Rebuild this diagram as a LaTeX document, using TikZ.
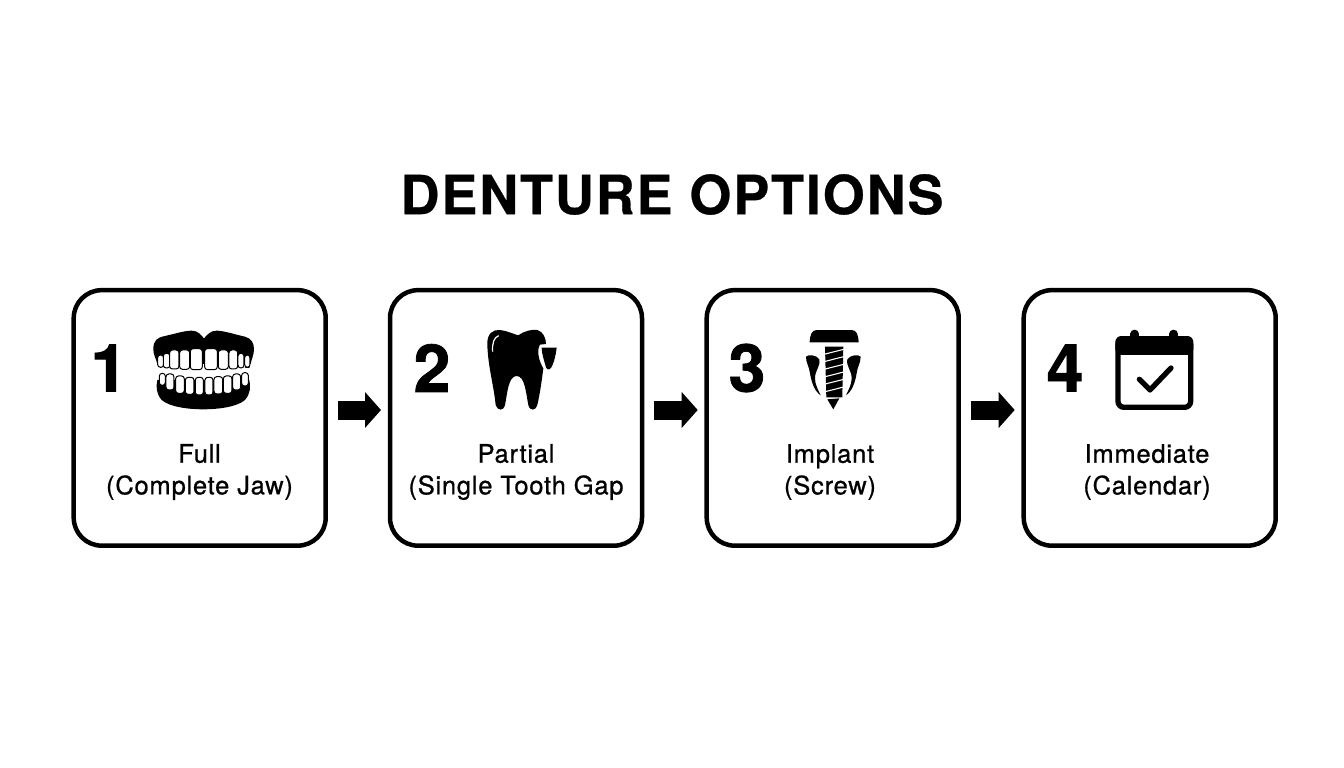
\documentclass[tikz,border=0pt]{standalone}
\usepackage{fontspec}
\setmainfont{TeX Gyre Heros}
\newfontfamily\titlefont[LetterSpace=3.4, FakeBold=0.5]{TeX Gyre Heros}
\newfontfamily\numberfont[FakeBold=1.2]{TeX Gyre Heros}
\newfontfamily\labelfont[LetterSpace=3, FakeBold=0.8]{TeX Gyre Heros}
\usetikzlibrary{arrows.meta}
\tikzset{
    optionbox/.style={draw=black, line width=4.5pt, rounded corners=28pt, minimum width=252pt, minimum height=255.5pt, inner sep=0pt, outer sep=0pt},
    flowarrow/.style={-{Triangle[length=16pt,width=35pt]}, line width=19pt, shorten <=12pt, shorten >=9pt},
    numberlabel/.style={font=\numberfont\bfseries\fontsize{66}{66}\selectfont, inner sep=0pt},
    optionlabel/.style={font=\labelfont\fontsize{25.5}{31.7}\selectfont, align=center, inner sep=0pt},
    tooth/.style={fill=white, draw=black, line width=1pt, rounded corners=2.8pt},
    icon/.style={x=0.3333pt, y=-0.3333pt}
}
\begin{document}
\begin{tikzpicture}[x=1pt, y=-1pt]
    \useasboundingbox (0,0) rectangle (1344,768);

    % Title
    \node[font=\titlefont\bfseries\fontsize{54}{54}\selectfont, inner sep=0pt] (title) at (672,194.5) {DENTURE OPTIONS};

    % Boxes
    \foreach \i/\x in {1/199.7, 2/516, 3/832.7, 4/1149.7}
    {
    	\node[optionbox] (box-\i) at (\x,417.9) {};
    }

    % Numbers
    \foreach \i/\x in {1/109, 2/432, 3/747, 4/1065}
    {
    	\node[numberlabel] (number-\i) at (\x,368) {\i};
    }

    % Labels
    \node[optionlabel] (label-1) at (199.5,472) {Full\\(Complete Jaw)};
    \node[optionlabel] (label-2) at (516,472) {Partial\\(Single Tooth Gap};
    \node[optionlabel] (label-3) at (830,472) {Implant\\(Screw)};
    \node[optionlabel] (label-4) at (1147,472) {Immediate\\(Calendar)};

    % Connect boxes
    \foreach \i [count=\j from 2] in {1,...,3}
    {
    	\draw[flowarrow] ([yshift=7.9pt]box-\i.east) -- ([yshift=7.9pt]box-\j.west);
    }

    % Dentures
    \begin{scope}[shift={(70,290)}, icon]
    	\fill (250,178) .. controls (250,150) and (262,143) .. (285,138) .. controls (320,130) and (345,122) .. (365,122) .. controls (385,122) and (392,135) .. (402,145) .. controls (412,135) and (420,122) .. (440,122) .. controls (460,122) and (490,132) .. (525,140) .. controls (545,145) and (552,160) .. (552,178) .. controls (552,195) and (545,205) .. (542,222) -- (262,222) .. controls (258,205) and (250,195) .. (250,178) -- cycle;
    	\fill (262,270) -- (538,270) .. controls (542,290) and (542,310) .. (525,330) .. controls (500,352) and (440,358) .. (400,358) .. controls (360,358) and (300,352) .. (275,330) .. controls (258,310) and (258,290) .. (262,270) -- cycle;
    	\foreach \x/\w/\t/\b in {272/9/195/232, 290/10/190/234, 313/14/180/237, 344/15/180/238, 379/18/176/239, 423/19/176/239, 460/15/180/238, 490/13/180/237, 513/9/190/234, 532/8/195/232}
    	{
    		\filldraw[tooth] (\x-\w,\t) rectangle (\x+\w,\b);
    	}
    	\foreach \x/\w/\t/\b in {277/9/250/286, 300/12/252/300, 330/13/258/310, 359/13/262/313, 388/12/262/315, 417/12/262/315, 445/13/260/312, 473/13/258/310, 500/12/252/300, 525/10/248/288}
    	{
    		\filldraw[tooth] (\x-\w,\t) rectangle (\x+\w,\b);
    	}
    \end{scope}

    % Tooth
    \begin{scope}[shift={(400,310)}, icon]
    	\fill (262,105) .. controls (260,70) and (280,58) .. (300,60) .. controls (320,62) and (340,72) .. (355,76) .. controls (375,62) and (395,58) .. (412,60) .. controls (430,65) and (438,85) .. (438,102) -- (420,104) .. controls (410,120) and (415,150) .. (430,175) .. controls (425,215) and (420,250) .. (412,285) .. controls (408,302) and (390,305) .. (385,285) .. controls (378,250) and (375,198) .. (350,198) .. controls (325,198) and (322,250) .. (315,285) .. controls (310,305) and (292,302) .. (287,285) .. controls (282,230) and (264,170) .. (262,105) -- cycle;
    	\fill (425,113) -- (470,113) .. controls (468,135) and (460,165) .. (452,175) .. controls (445,182) and (438,178) .. (436,165) .. controls (432,150) and (425,130) .. (425,113) -- cycle;
    	\draw[white, line width=1.2pt] (296,77) .. controls (282,82) and (276,100) .. (278,125);
    \end{scope}

    % Screw
    \begin{scope}[shift={(720,310)}, icon]
    	\fill (269,97) .. controls (270,75) and (275,60) .. (290,60) -- (395,60) .. controls (410,60) and (415,75) .. (416,97) -- cycle;
    	\fill (315,110) -- (370,110) -- (367,262) -- (319,262) -- cycle;
    	\fill (322,268) -- (358,265) -- (340,298) -- cycle;
    	\foreach \y in {134,156,179,202,224,247}
    	{
    		\draw[white, line width=1.1pt] (308,\y) -- (375,\y-17);
    	}
    	\fill (258,140) .. controls (265,132) and (290,135) .. (298,148) .. controls (302,170) and (285,180) .. (285,205) .. controls (285,225) and (295,240) .. (302,256) .. controls (285,245) and (275,220) .. (270,190) .. controls (268,170) and (258,160) .. (258,140) -- cycle;
    	\fill (422,140) .. controls (415,132) and (390,135) .. (382,148) .. controls (378,170) and (395,180) .. (395,205) .. controls (395,225) and (385,240) .. (378,256) .. controls (395,245) and (405,220) .. (410,190) .. controls (412,170) and (422,160) .. (422,140) -- cycle;
    \end{scope}

    % Calendar
    \begin{scope}[shift={(1030,310)}, icon]
    	\draw[line width=5.3pt, rounded corners=6pt] (264,86) rectangle (482,292);
    	\fill[rounded corners=6pt] (256,78) -- (490,78) -- (490,135) -- (256,135) -- cycle;
    	\foreach \x in {314,431}
    	{
    		\draw[line width=8.7pt, line cap=round] (\x,72) -- (\x,90);
    	}
    	\draw[line width=5.3pt, line cap=round, line join=round] (328,208) -- (360,240) -- (423,174);
    \end{scope}
\end{tikzpicture}
\end{document}
